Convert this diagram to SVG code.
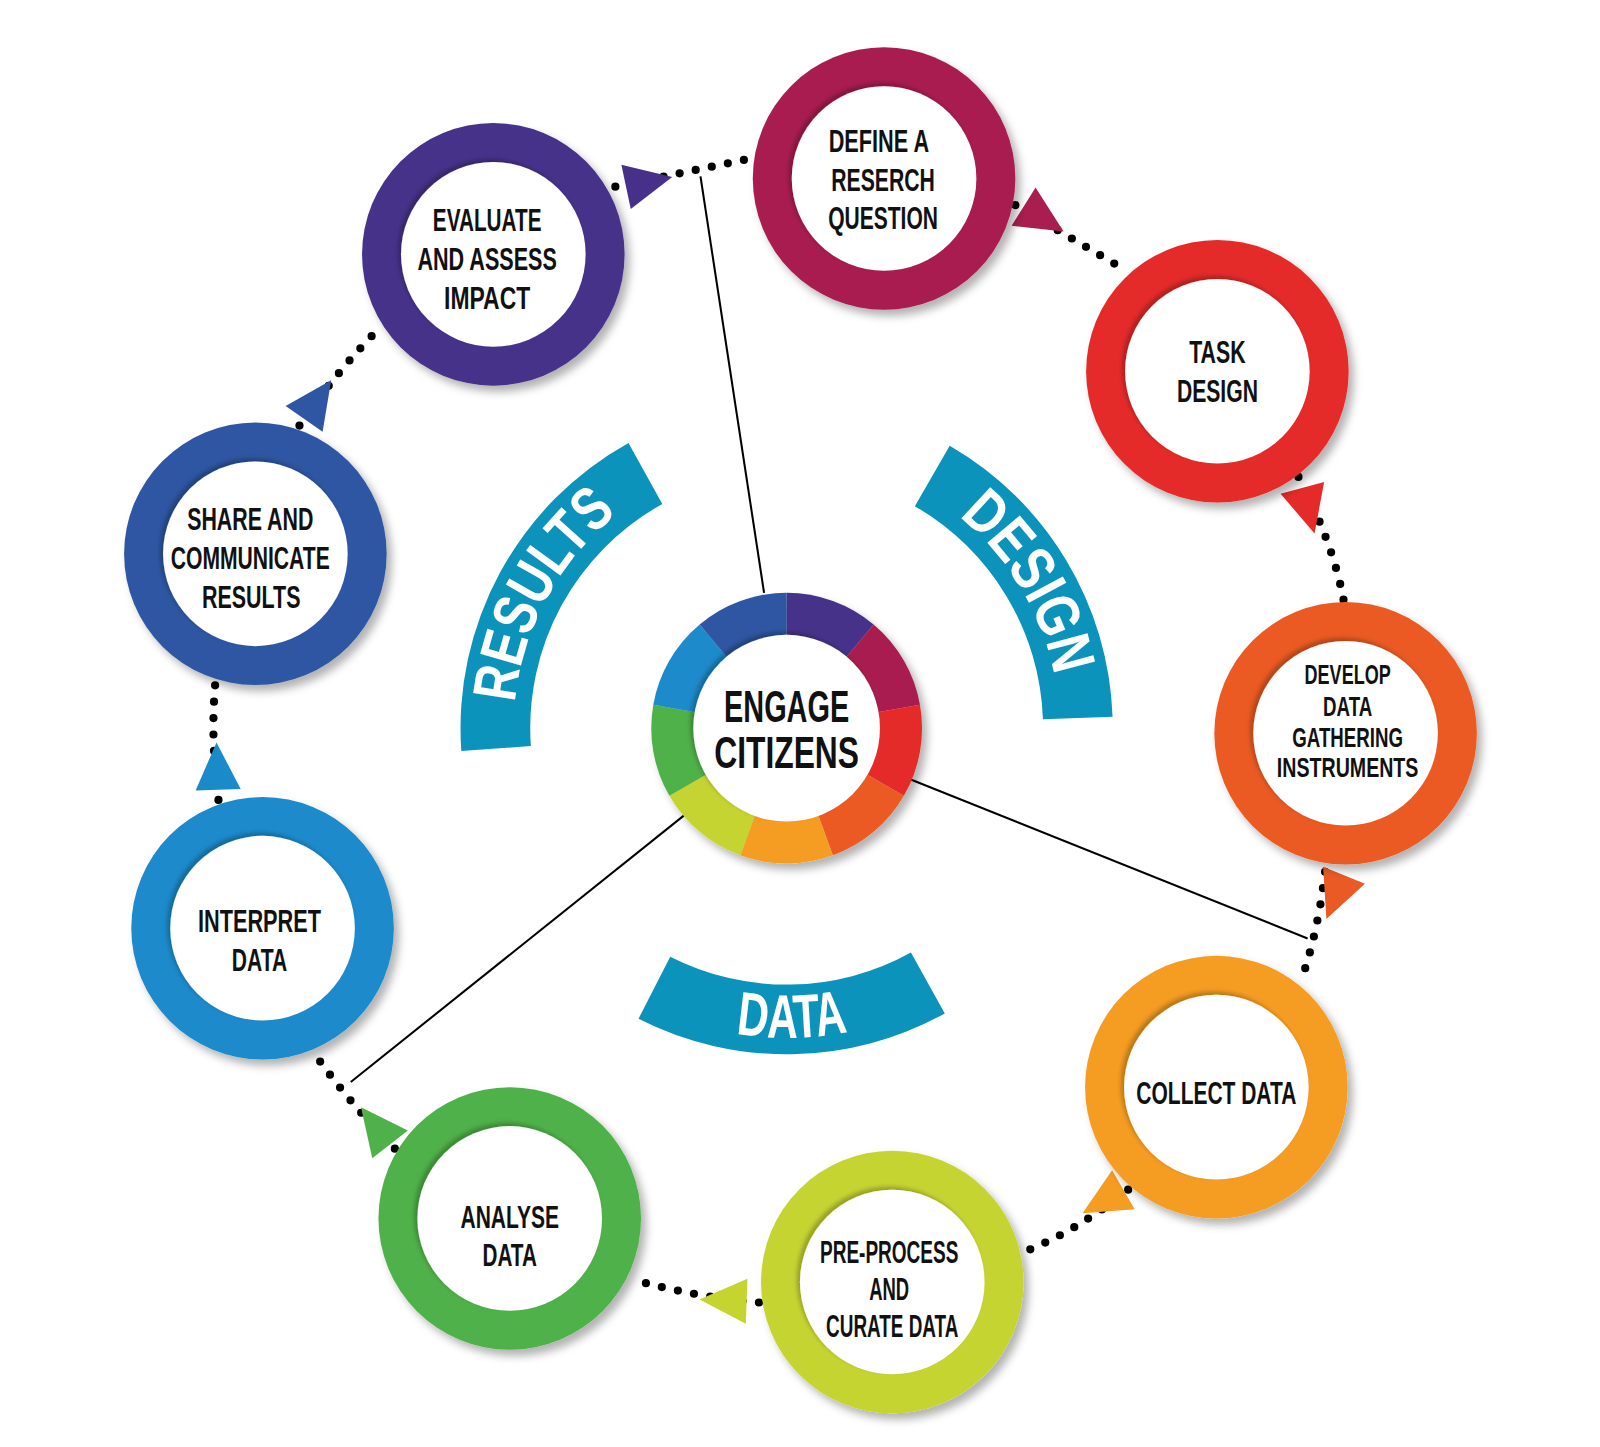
<svg xmlns="http://www.w3.org/2000/svg" width="1600" height="1447" viewBox="0 0 1600 1447">
<defs>
<filter id="sh" x="-20%" y="-20%" width="140%" height="140%"><feDropShadow dx="5" dy="6" stdDeviation="4" flood-color="#000" flood-opacity="0.3"/></filter>
<filter id="ish" x="-20%" y="-20%" width="140%" height="140%"><feDropShadow dx="-3" dy="-3" stdDeviation="2" flood-color="#000" flood-opacity="0.25"/></filter>
<path id="tri" d="M-20,-22 L26,0 L-20,22 Z"/>
<path id="pRes" d="M506.4,763 A266,266 0 0 1 669.5,462.5"/>
<path id="pDes" d="M853.6,458.5 A266,266 0 0 1 1029.7,751.6"/>
<path id="pDat" d="M572.9,941.3 A302,302 0 0 0 969.1,934.4"/>
</defs>
<style>
.t{font-family:"Liberation Sans",Arial,sans-serif;font-weight:bold;font-size:31px;fill:#111;text-anchor:middle}
.s{font-size:27px}
.big{font-size:44px}
.arc{fill:#0b93bb}
.at{font-family:"Liberation Sans",Arial,sans-serif;font-weight:bold;font-size:60px;fill:#fff;text-anchor:middle}
.dot{fill:none;stroke:#000;stroke-width:8;stroke-linecap:round;stroke-dasharray:0 16}
.ln{stroke:#000;stroke-width:2;fill:none}
.w{fill:#fff}
</style>
<rect width="1600" height="1447" fill="#fff"/>
<g transform="scale(1.0256)">
<g id="connectors">
<line class="ln" x1="683" y1="172" x2="745" y2="578"/>
<line class="ln" x1="888" y1="760" x2="1275" y2="915"/>
<line class="ln" x1="667" y1="795" x2="342" y2="1055"/>
<path class="dot" d="M600,182 L730,155"/>
<path class="dot" d="M990,200 L1100,265"/>
<path class="dot" d="M1266,465 Q1300,530 1310,585"/>
<path class="dot" d="M1292,850 Q1285,910 1268,958"/>
<path class="dot" d="M1100,1160 Q1050,1200 1000,1220"/>
<path class="dot" d="M740,1270 Q680,1265 618,1248"/>
<path class="dot" d="M385,1120 Q340,1075 305,1025"/>
<path class="dot" d="M213,780 Q205,720 210,665"/>
<path class="dot" d="M292,415 Q330,360 370,320"/>
<use href="#tri" fill="#47308a" transform="translate(630,178) rotate(-12)"/>
<use href="#tri" fill="#a91e4f" transform="translate(1015,212) rotate(32)"/>
<use href="#tri" fill="#e52a2a" transform="translate(1275,495) rotate(75)"/>
<use href="#tri" fill="#ea5a24" transform="translate(1303,872) rotate(112)"/>
<use href="#tri" fill="#f59c22" transform="translate(1078,1170) rotate(150)"/>
<use href="#tri" fill="#c6d430" transform="translate(708,1268) rotate(182)"/>
<use href="#tri" fill="#4fb14a" transform="translate(368,1100) rotate(232)"/>
<use href="#tri" fill="#1a8acb" transform="translate(212,750) rotate(268)"/>
<use href="#tri" fill="#2e56a2" transform="translate(308,392) rotate(305)"/>
</g>
<g id="arcs">
<path class="arc" d="M449.8,732.2 A318,318 0 0 1 612.8,431.9 L645.8,491.4 A250,250 0 0 0 517.6,727.4 Z"/>
<path class="arc" d="M926,434.6 A318,318 0 0 1 1084.8,698.9 L1016.9,701.3 A250,250 0 0 0 892,493.5 Z"/>
<path class="arc" d="M921.2,988.1 A318,318 0 0 1 622.6,993.3 L653.5,932.8 A250,250 0 0 0 888.2,928.7 Z"/>
<text class="at"><textPath href="#pRes" startOffset="50%" textLength="215" lengthAdjust="spacingAndGlyphs">RESULTS</textPath></text>
<text class="at"><textPath href="#pDes" startOffset="50%" textLength="185" lengthAdjust="spacingAndGlyphs">DESIGN</textPath></text>
<text class="at"><textPath href="#pDat" startOffset="50%" textLength="110" lengthAdjust="spacingAndGlyphs">DATA</textPath></text>
</g>
<g id="center">
<g filter="url(#sh)" transform="translate(767,710)">
<path fill="#47308a" d="M0,0 L0,-132 A132,132 0 0 1 84.8,-101.1 Z"/>
<path fill="#a91e4f" d="M0,0 L84.8,-101.1 A132,132 0 0 1 130,-22.9 Z"/>
<path fill="#e52a2a" d="M0,0 L130,-22.9 A132,132 0 0 1 114.3,66 Z"/>
<path fill="#ea5a24" d="M0,0 L114.3,66 A132,132 0 0 1 45.1,124 Z"/>
<path fill="#f59c22" d="M0,0 L45.1,124 A132,132 0 0 1 -45.1,124 Z"/>
<path fill="#c6d430" d="M0,0 L-45.1,124 A132,132 0 0 1 -114.3,66 Z"/>
<path fill="#4fb14a" d="M0,0 L-114.3,66 A132,132 0 0 1 -130,-22.9 Z"/>
<path fill="#1a8acb" d="M0,0 L-130,-22.9 A132,132 0 0 1 -84.8,-101.1 Z"/>
<path fill="#2e56a2" d="M0,0 L-84.8,-101.1 A132,132 0 0 1 0,-132 Z"/>
</g>
<circle class="w" cx="767" cy="710" r="91" filter="url(#ish)"/>
<text class="t big" x="767" y="704" textLength="122" lengthAdjust="spacingAndGlyphs">ENGAGE</text>
<text class="t big" x="767" y="749" textLength="141" lengthAdjust="spacingAndGlyphs">CITIZENS</text>
</g>
<g id="define"><circle cx="862" cy="174" r="128" fill="#a91e4f" filter="url(#sh)"/><circle class="w" cx="862" cy="174" r="90" filter="url(#ish)"/>
<text class="t" x="857" y="148" textLength="98" lengthAdjust="spacingAndGlyphs">DEFINE A</text>
<text class="t" x="861" y="186" textLength="101" lengthAdjust="spacingAndGlyphs">RESERCH</text>
<text class="t" x="861" y="223" textLength="107" lengthAdjust="spacingAndGlyphs">QUESTION</text></g>
<g id="task"><circle cx="1187" cy="362" r="128" fill="#e52a2a" filter="url(#sh)"/><circle class="w" cx="1187" cy="362" r="90" filter="url(#ish)"/>
<text class="t" x="1187" y="354" textLength="55" lengthAdjust="spacingAndGlyphs">TASK</text>
<text class="t" x="1187" y="392" textLength="79" lengthAdjust="spacingAndGlyphs">DESIGN</text></g>
<g id="develop"><circle cx="1312" cy="715" r="128" fill="#ea5a24" filter="url(#sh)"/><circle class="w" cx="1312" cy="715" r="90" filter="url(#ish)"/>
<text class="t s" x="1314" y="667" textLength="84" lengthAdjust="spacingAndGlyphs">DEVELOP</text>
<text class="t s" x="1314" y="698" textLength="48" lengthAdjust="spacingAndGlyphs">DATA</text>
<text class="t s" x="1314" y="728" textLength="108" lengthAdjust="spacingAndGlyphs">GATHERING</text>
<text class="t s" x="1314" y="758" textLength="138" lengthAdjust="spacingAndGlyphs">INSTRUMENTS</text></g>
<g id="collect"><circle cx="1186" cy="1060" r="128" fill="#f59c22" filter="url(#sh)"/><circle class="w" cx="1186" cy="1060" r="90" filter="url(#ish)"/>
<text class="t" x="1186" y="1076" textLength="156" lengthAdjust="spacingAndGlyphs">COLLECT DATA</text></g>
<g id="preprocess"><circle cx="870" cy="1250" r="128" fill="#c6d430" filter="url(#sh)"/><circle class="w" cx="870" cy="1250" r="90" filter="url(#ish)"/>
<text class="t" x="867" y="1231" textLength="135" lengthAdjust="spacingAndGlyphs">PRE-PROCESS</text>
<text class="t" x="867" y="1268" textLength="39" lengthAdjust="spacingAndGlyphs">AND</text>
<text class="t" x="870" y="1304" textLength="129" lengthAdjust="spacingAndGlyphs">CURATE DATA</text></g>
<g id="analyse"><circle cx="497" cy="1188" r="128" fill="#4fb14a" filter="url(#sh)"/><circle class="w" cx="497" cy="1188" r="90" filter="url(#ish)"/>
<text class="t" x="497" y="1197" textLength="96" lengthAdjust="spacingAndGlyphs">ANALYSE</text>
<text class="t" x="497" y="1234" textLength="53" lengthAdjust="spacingAndGlyphs">DATA</text></g>
<g id="interpret"><circle cx="256" cy="905" r="128" fill="#1a8acb" filter="url(#sh)"/><circle class="w" cx="256" cy="905" r="90" filter="url(#ish)"/>
<text class="t" x="253" y="909" textLength="120" lengthAdjust="spacingAndGlyphs">INTERPRET</text>
<text class="t" x="253" y="947" textLength="54" lengthAdjust="spacingAndGlyphs">DATA</text></g>
<g id="share"><circle cx="249" cy="540" r="128" fill="#2e56a2" filter="url(#sh)"/><circle class="w" cx="249" cy="540" r="90" filter="url(#ish)"/>
<text class="t" x="244" y="517" textLength="123" lengthAdjust="spacingAndGlyphs">SHARE AND</text>
<text class="t" x="244" y="555" textLength="155" lengthAdjust="spacingAndGlyphs">COMMUNICATE</text>
<text class="t" x="245" y="593" textLength="96" lengthAdjust="spacingAndGlyphs">RESULTS</text></g>
<g id="evaluate"><circle cx="481" cy="248" r="128" fill="#47308a" filter="url(#sh)"/><circle class="w" cx="481" cy="248" r="90" filter="url(#ish)"/>
<text class="t" x="475" y="225" textLength="106" lengthAdjust="spacingAndGlyphs">EVALUATE</text>
<text class="t" x="475" y="263" textLength="136" lengthAdjust="spacingAndGlyphs">AND ASSESS</text>
<text class="t" x="475" y="301" textLength="84" lengthAdjust="spacingAndGlyphs">IMPACT</text></g>
</g>
</svg>
